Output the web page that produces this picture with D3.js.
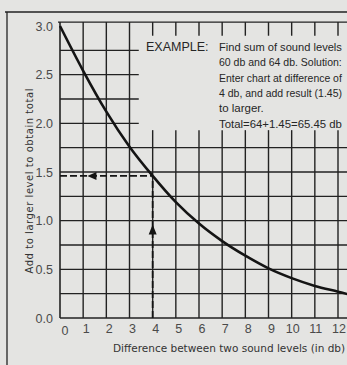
<!DOCTYPE html>
<html>
<head>
<meta charset="utf-8">
<script src="https://cdn.jsdelivr.net/npm/d3@7"></script>
<style>
  html, body { margin: 0; padding: 0; background: #e4e4e2; }
  svg { display: block; }
</style>
</head>
<body>
<svg id="chart" width="347" height="365"></svg>
<script>
// ---- data ----
const diffDb   = [0, 1, 2, 3, 4, 5, 6, 7, 8, 9, 10, 11, 12, 13];
const addDb    = [3.0, 2.54, 2.12, 1.76, 1.46, 1.19, 0.97, 0.79, 0.64, 0.51, 0.41, 0.33, 0.27, 0.21];
const xTicks   = [0, 1, 2, 3, 4, 5, 6, 7, 8, 9, 10, 11, 12];
const yTicks   = [0.0, 0.5, 1.0, 1.5, 2.0, 2.5, 3.0];
const yGrid    = [0.25, 0.5, 0.75, 1.0, 1.25, 1.5, 1.75, 2.0, 2.25, 2.5, 2.75];
const exampleX = 4;      // entry difference
const exampleY = 1.46;   // result
const exampleLines = [
  "Find sum of sound levels",
  "60 db and 64 db. Solution:",
  "Enter chart at difference of",
  "4 db, and add result (1.45)",
  "to larger.",
  "Total=64+1.45=65.45 db"
];

const svg = d3.select("#chart");
const W = 347, H = 365;
const ink = "#222";

const x = d3.scaleLinear().domain([0, 12]).range([60, 338]);
const y = d3.scaleLinear().domain([0, 3]).range([318, 26]);
const yTop = 3.04, xMax = 13;
const boxX = 3.4, boxY = 1.93;   // region hidden by example text

// outer frame
svg.append("line").attr("x1", 7).attr("x2", 7).attr("y1", 12).attr("y2", H)
  .attr("stroke", ink).attr("stroke-width", 1.3);
svg.append("line").attr("x1", 5).attr("x2", W).attr("y1", 12).attr("y2", 12)
  .attr("stroke", ink).attr("stroke-width", 1.3);

const g = svg.append("g");

// horizontal grid
yGrid.forEach(v => {
  const x2 = v >= 2.0 ? x(boxX) : W;
  g.append("line").attr("x1", x(0)).attr("x2", x2).attr("y1", y(v)).attr("y2", y(v))
    .attr("stroke", ink).attr("stroke-width", 1.4);
});
// borders
g.append("line").attr("x1", x(0)).attr("x2", W).attr("y1", y(0)).attr("y2", y(0))
  .attr("stroke", ink).attr("stroke-width", 1.6);
g.append("line").attr("x1", x(0) - 2).attr("x2", W).attr("y1", y(yTop)).attr("y2", y(yTop))
  .attr("stroke", ink).attr("stroke-width", 1.4);
g.append("line").attr("x1", x(0)).attr("x2", x(0)).attr("y1", y(yTop)).attr("y2", y(0))
  .attr("stroke", ink).attr("stroke-width", 1.6);

// vertical grid
d3.range(1, xMax + 1).forEach(v => {
  if (v < boxX) {
    g.append("line").attr("x1", x(v)).attr("x2", x(v)).attr("y1", y(yTop)).attr("y2", y(0))
      .attr("stroke", ink).attr("stroke-width", 1.4);
  } else {
    g.append("line").attr("x1", x(v)).attr("x2", x(v)).attr("y1", y(boxY)).attr("y2", y(0))
      .attr("stroke", ink).attr("stroke-width", 1.4);
    g.append("line").attr("x1", x(v)).attr("x2", x(v)).attr("y1", y(yTop)).attr("y2", y(2.9))
      .attr("stroke", ink).attr("stroke-width", 1.4);
  }
});

// curve
const line = d3.line().x((d, i) => x(diffDb[i])).y(d => y(d)).curve(d3.curveMonotoneX);
g.append("path").datum(addDb).attr("d", line)
  .attr("fill", "none").attr("stroke", "#141414").attr("stroke-width", 2.6);

// dashed example lines
g.append("line").attr("x1", x(0)).attr("x2", x(exampleX)).attr("y1", y(exampleY)).attr("y2", y(exampleY))
  .attr("stroke", "#141414").attr("stroke-width", 1.8).attr("stroke-dasharray", "7,3");
g.append("line").attr("x1", x(exampleX)).attr("x2", x(exampleX)).attr("y1", y(0)).attr("y2", y(exampleY))
  .attr("stroke", "#141414").attr("stroke-width", 1.8).attr("stroke-dasharray", "7,3");

// arrows
const ax = x(1.4), ay = y(exampleY);
g.append("path").attr("d", `M${ax - 5},${ay} L${ax + 4},${ay - 4} L${ax + 4},${ay + 4} Z`).attr("fill", "#141414");
const ux = x(exampleX), uy = y(0.9);
g.append("path").attr("d", `M${ux},${uy - 6} L${ux - 4},${uy + 4} L${ux + 4},${uy + 4} Z`).attr("fill", "#141414");

// y tick labels
yTicks.forEach(v => {
  svg.append("text").attr("x", 53).attr("y", y(v) + 4.5)
    .attr("text-anchor", "end").attr("font-family", "Liberation Sans, sans-serif")
    .attr("font-size", 12.5).attr("fill", "#4a4a4a").text(v.toFixed(1));
});
// x tick labels
xTicks.forEach(v => {
  svg.append("text").attr("x", x(v) + (v === 0 ? 5 : (v >= 10 ? 1 : 3))).attr("y", v === 0 ? 335 : 333)
    .attr("text-anchor", "middle").attr("font-family", "Liberation Sans, sans-serif")
    .attr("font-size", 12.5).attr("fill", "#4a4a4a").text(v);
});

// axis titles
svg.append("text").attr("transform", `translate(33,${y(1.41)}) rotate(-90)`)
  .attr("text-anchor", "middle").attr("font-family", "DejaVu Sans, sans-serif")
  .attr("font-size", 10).attr("letter-spacing", 0.55).attr("fill", "#333")
  .text("Add to larger level to obtain total");
svg.append("text").attr("x", 113).attr("y", 352)
  .attr("font-family", "DejaVu Sans, sans-serif").attr("font-size", 10.5).attr("fill", "#333")
  .text("Difference between two sound levels (in db)");

// example text
svg.append("text").attr("x", 146).attr("y", 51)
  .attr("font-family", "Liberation Sans, sans-serif").attr("font-size", 12.5).attr("fill", "#262626")
  .text("EXAMPLE:");
const maxW = W - 219 - 5;
exampleLines.forEach((t, i) => {
  const fs = 11.5;
  const tx = svg.append("text").attr("x", 219).attr("y", 51 + i * 15.3)
    .attr("font-family", "Liberation Sans, sans-serif").attr("font-size", fs).attr("fill", "#262626")
    .text(t);
  const len = tx.node().getComputedTextLength();
  if (len > maxW) tx.attr("font-size", (fs * maxW / len).toFixed(2));
});
</script>
</body>
</html>
